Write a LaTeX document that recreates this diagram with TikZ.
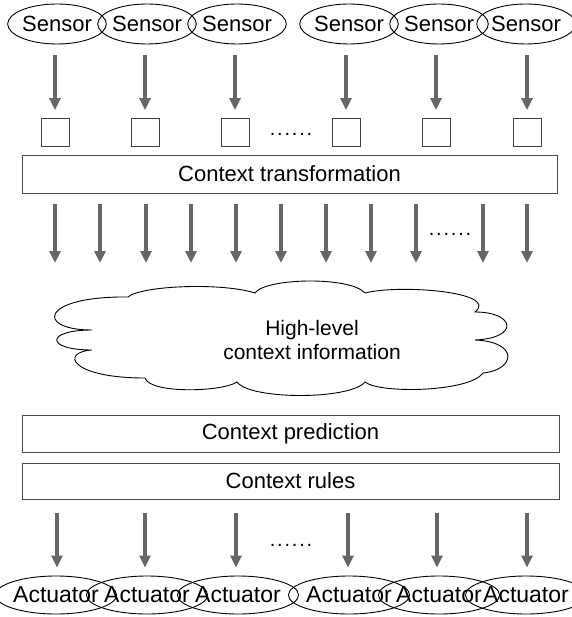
\documentclass[tikz,border=0pt]{standalone}
\usepackage{fontspec}
\setmainfont{Liberation Sans}
\usetikzlibrary{shapes.geometric,arrows.meta}
\newcommand{\sixdots}{.\kern1.8pt.\kern1.8pt.\kern1.8pt.\kern1.8pt.\kern1.8pt.}
\tikzset{
  every node/.style={font=\fontsize{22}{25}\selectfont, inner sep=0pt},
  oval/.style={ellipse, draw=black, line width=0.9pt, minimum width=90pt, minimum height=40pt},
  cell/.style={rectangle, draw=black!75, line width=0.9pt, minimum size=28pt},
  layer/.style={rectangle, draw=black!70, line width=0.9pt, minimum height=37pt},
  flow/.style={draw=black!60, line width=3.2pt, -{Triangle[width=11pt,length=12pt]}},
  dotrow/.style={anchor=base, font=\fontsize{20}{24}\selectfont},
}
\begin{document}
\begin{tikzpicture}[x=1pt, y=-1pt]
  \useasboundingbox (0,0) rectangle (571,617);

  % sensors and their input cells
  \foreach \i/\x in {1/57, 2/147, 3/237, 4/349, 5/439, 6/526} {
    \node[oval] (s\i) at (\x,24) {Sensor};
  }
  \foreach \i/\x in {1/55, 2/145, 3/235, 4/346, 5/436, 6/527} {
    \node[cell] (q\i) at (\x,132.5) {};
  }
  \foreach \i in {1,...,6} {
    \draw[flow, shorten <=11pt, shorten >=8pt] (s\i.south -| q\i) -- (q\i.north);
  }
  \node[dotrow] (d1) at (291,136) {\sixdots};

  % transformation layer
  \node[layer, minimum width=535pt, minimum height=38pt] (trans) at (289.5,174) {Context transformation};

  % fan-out into the high-level context
  \foreach \i/\x in {1/55, 2/100, 3/146, 4/191, 5/236, 6/281, 7/326, 8/371, 9/416, 10/483, 11/527} {
    \coordinate (t\i) at (\x,204);
    \coordinate (h\i) at (\x,263);
    \draw[flow] (t\i) -- (h\i);
  }
  \node[dotrow] (d2) at (450,236) {\sixdots};

  % cloud of high-level context information
  \draw[black, line width=0.9pt]
    (128,297) .. controls (140,286) and (220,282) .. (255,293)
    .. controls (265,278) and (350,276) .. (365,293)
    .. controls (400,284) and (500,292) .. (475,312)
    .. controls (515,312) and (520,338) .. (475,340)
    .. controls (520,342) and (515,370) .. (483,373)
    .. controls (470,392) and (380,394) .. (365,382)
    .. controls (350,400) and (250,400) .. (237,382)
    .. controls (222,392) and (150,394) .. (145,378)
    .. controls (70,378) and (60,352) .. (92,350)
    .. controls (45,350) and (45,330) .. (92,330)
    .. controls (35,330) and (40,296) .. (128,297);
  \node[align=center, font=\fontsize{21}{24}\selectfont] (info) at (312,340) {High-level\\context information};

  % prediction and rules layers
  \node[layer, minimum width=537pt] (pred) at (290.5,433.5) {Context prediction};
  \node[layer, minimum width=537pt, minimum height=36pt] (rules) at (290.5,481) {Context rules};

  % actuators
  \foreach \i/\x in {1/56, 2/147, 3/238, 4/349, 5/439, 6/526} {
    \node[oval, minimum width=91pt, minimum height=38pt, font=\fontsize{23}{26}\selectfont] (a\i) at (\x,595) {Actuator};
  }
  \foreach \i/\x in {1/57, 2/145, 3/236, 4/348, 5/437, 6/527} {
    \coordinate (r\i) at (\x,499);
    \draw[flow, shorten <=14pt, shorten >=8pt] (r\i) -- (r\i |- a\i.north);
  }
  \node[dotrow] (d3) at (291,546) {\sixdots};
\end{tikzpicture}
\end{document}
